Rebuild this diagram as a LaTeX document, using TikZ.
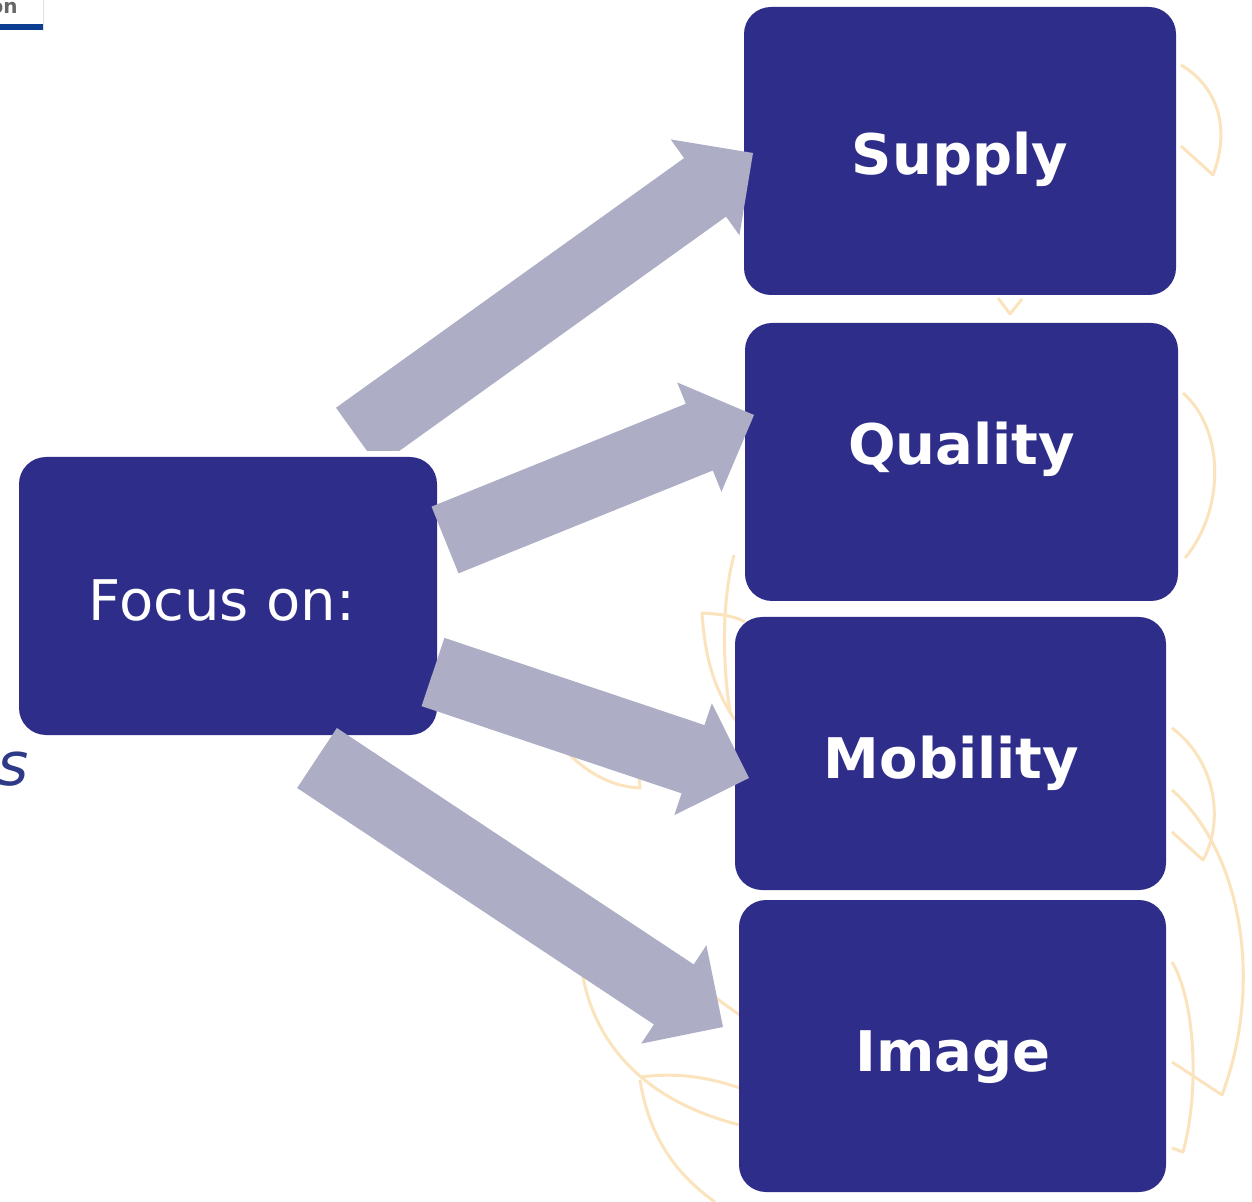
\documentclass[tikz,border=0pt]{standalone}
\usepackage{fontspec}
\setmainfont{DejaVu Sans}
\usetikzlibrary{calc}
\definecolor{boxblue}{HTML}{2E2E8A}
\definecolor{arrowgray}{HTML}{ADAEC5}
\definecolor{leaf}{HTML}{FBE3BD}
\definecolor{logoblue}{HTML}{0B3D91}
\definecolor{sblue}{HTML}{2E3A87}
\tikzset{
  box/.style={fill=boxblue, draw=none, rounded corners=13.5pt, inner sep=0pt},
  boldlbl/.style={text=white, font=\fontsize{28}{34}\selectfont\bfseries, inner sep=0pt, anchor=base},
  reglbl/.style={text=white, font=\fontsize{28}{34}\selectfont, inner sep=0pt, anchor=base},
  arrowfill/.style={fill=arrowgray, draw=none},
  leafline/.style={draw=leaf, line width=1.5pt, line join=round}
}
\newcommand\blockarrow[2]{%
  \coordinate (hb) at ($(#2)!29.5pt!(#1)$);
  \fill[arrowfill] ($(#1)!18pt!90:(#2)$) -- ($(hb)!18pt!90:(#2)$) -- ($(hb)!29.5pt!90:(#2)$) -- (#2)
    -- ($(hb)!29.5pt!-90:(#2)$) -- ($(hb)!18pt!-90:(#2)$) -- ($(#1)!18pt!-90:(#2)$) -- cycle;}
\begin{document}
\begin{tikzpicture}[x=0.5pt,y=-0.5pt]
\useasboundingbox (0,0) rectangle (1252,1202);
% background leaf outlines
\draw[leafline] (1181,65) .. controls (1215,85) and (1232,125) .. (1213,175) -- (1181,146);
\draw[leafline] (998,298) -- (1010,314) -- (1022,299);
\draw[leafline] (1183,393) .. controls (1225,430) and (1225,510) .. (1185,558);
\draw[leafline] (734,555) .. controls (722,600) and (722,660) .. (730,712);
\draw[leafline] (745,622) .. controls (735,616) and (720,614) .. (702,613) .. controls (705,660) and (715,690) .. (735,720);
\draw[leafline] (570,755) .. controls (590,775) and (615,787) .. (640,788) -- (639,777);
\draw[leafline] (583,977) .. controls (595,1040) and (640,1100) .. (740,1125);
\draw[leafline] (640,1077) .. controls (680,1072) and (710,1078) .. (740,1088);
\draw[leafline] (640,1080) .. controls (648,1130) and (670,1170) .. (715,1202);
\draw[leafline] (700,985) .. controls (712,995) and (725,1005) .. (740,1015);
\draw[leafline] (1172,728) .. controls (1215,760) and (1225,820) .. (1203,860) -- (1172,832);
\draw[leafline] (1172,790) .. controls (1240,850) and (1265,980) .. (1222,1095) -- (1172,1062);
\draw[leafline] (1172,962) .. controls (1195,1000) and (1200,1090) .. (1183,1152) -- (1172,1148);
% top-left fragment
\node[text=black!60, font=\fontsize{10}{12}\selectfont\bfseries, inner sep=0pt, anchor=base east] (on) at (18,14) {on};
\fill[logoblue] (0,24) rectangle (43,30);
\draw[black!12, line width=0.5pt] (43,0) -- (43,31);
\node[text=sblue, font=\fontsize{30}{36}\selectfont\itshape, inner sep=0pt, anchor=base] (s) at (13,785) {s};
% boxes
\node[box, minimum width=209pt, minimum height=139pt] (focus) at (228,596) {};
\node[box, minimum width=216pt, minimum height=144pt] (supply) at (960,151) {};
\node[box, minimum width=216.5pt, minimum height=139pt] (quality) at (961.5,462) {};
\node[box, minimum width=215.5pt, minimum height=136.5pt] (mobility) at (950.5,753.5) {};
\node[box, minimum width=213.5pt, minimum height=146pt] (image) at (952.5,1046) {};
% labels
\node[reglbl] (focust) at (222,621) {Focus on:};
\node[boldlbl] (supplyt) at (960,175) {Supply};
\node[boldlbl] (qualityt) at (961.5,465) {Quality};
\node[boldlbl] (mobilityt) at (951.5,778) {Mobility};
\node[boldlbl] (imaget) at (953,1071) {Image};
% arrow end points
\coordinate (t1) at (357,437);  \coordinate (p1) at (753,153);
\coordinate (t2) at (445,540);  \coordinate (p2) at (754,415);
\coordinate (t3) at (433,672);  \coordinate (p3) at (749,778);
\coordinate (t4) at (317,758);  \coordinate (p4) at (723,1027);
\begin{scope}
  \clip (0,0) rectangle (1252,451);
  \blockarrow{t1}{p1}
\end{scope}
\blockarrow{t2}{p2}
\blockarrow{t3}{p3}
\blockarrow{t4}{p4}
\end{tikzpicture}
\end{document}
